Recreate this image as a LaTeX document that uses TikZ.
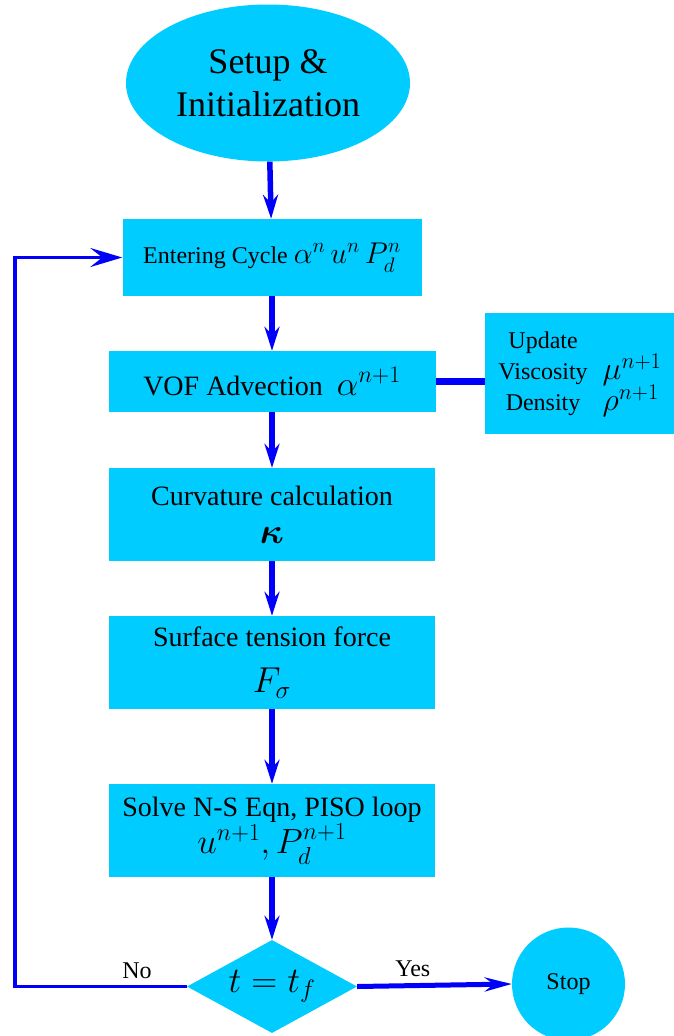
\RequirePackage{fix-cm}
\documentclass[tikz,border=0pt]{standalone}
\usepackage{amsmath,amssymb}
\usepackage[no-math]{fontspec}
\IfFontExistsTF{LiberationSerif-Regular.ttf}
  {\setmainfont{LiberationSerif}[Extension=.ttf, UprightFont=*-Regular,
     BoldFont=*-Bold, ItalicFont=*-Italic, BoldItalicFont=*-BoldItalic]}
  {\setmainfont{Liberation Serif}}
\usepackage{tikz}
\usetikzlibrary{arrows.meta,positioning,shapes.geometric}
\definecolor{cellfill}{RGB}{0,204,255}
\definecolor{wire}{RGB}{0,0,250}
\newcommand{\eqsz}[2]{{\fontsize{#1}{#1}\selectfont$#2$}}
\tikzset{
  box/.style={fill=cellfill, inner sep=4pt, align=center,
              minimum width=326pt, minimum height=93pt, font=\rmfamily\fontsize{28}{38}\selectfont},
  bubble/.style={ellipse, fill=cellfill, inner sep=0pt, align=center,
              minimum width=284pt, minimum height=157pt, font=\rmfamily\fontsize{36}{43}\selectfont},
  decision/.style={diamond, fill=cellfill, inner sep=0pt, shape aspect=1.8,
              minimum width=170pt, minimum height=93pt},
  terminal/.style={circle, fill=cellfill, inner sep=0pt, minimum size=113pt,
              font=\rmfamily\fontsize{24}{28}\selectfont},
  tag/.style={inner sep=2pt, text=black, font=\rmfamily\fontsize{24}{28}\selectfont},
  flow/.style={-{Stealth[length=24pt,width=15pt,inset=8pt]}, wire, line width=5.5pt},
  link/.style={wire, line width=7pt},
  loopback/.style={-{Stealth[length=32pt,width=19pt,inset=12pt]}, wire, line width=3.5pt},
}
\begin{document}
\begin{tikzpicture}[x=1pt,y=-1pt]
  \useasboundingbox (0,0) rectangle (673,1036);
  \node[bubble] (init) at (268,83) {Setup \&\\Initialization};
  \node[box, minimum width=299pt, minimum height=77pt, font=\rmfamily\fontsize{24}{30}\selectfont]
    (enter) at (272,257.5) {Entering Cycle \eqsz{30}{\alpha^n\,u^n\,P^n_d}};
  \node[box, minimum width=327pt, minimum height=61pt]
    (vof) at (272,381.5) {VOF Advection\hspace{14pt}\eqsz{34}{\alpha^{n+1}}};
  \node[box, minimum width=190pt, minimum height=121pt, font=\rmfamily\fontsize{24}{31}\selectfont]
    (update) at (580,373.5) {%
      \begin{tabular}{@{}c@{\hspace{15pt}}l@{}}
        Update & \\
        Viscosity & \smash{\eqsz{32}{\mu^{n+1}}} \\
        Density & \smash{\eqsz{32}{\rho^{n+1}}}
      \end{tabular}};
  \node[box] (curv) at (272,514.5) {Curvature calculation\\\eqsz{36}{\boldsymbol{\kappa}}};
  \node[box] (surf) at (272,662.5) {Surface tension force\\[8pt]\eqsz{36}{F_\sigma}};
  \node[box, font=\rmfamily\fontsize{28}{37}\selectfont]
    (solve) at (272,830.5) {Solve N-S Eqn, PISO loop\\\eqsz{35}{u^{n+1}, P_d^{n+1}}};
  \node[decision] (check) at (272,986.5) {\eqsz{36}{t=t_f}};
  \node[terminal] (stop) at (568.5,984) {Stop};
  \coordinate (loopcorner) at (15,986.5);

  \draw[flow] (init) -- (enter);
  \draw[flow] (enter) -- (vof);
  \draw[link] (vof.east) -- (vof.east -| update.west);
  \draw[flow] (vof) -- (curv);
  \draw[flow] (curv) -- (surf);
  \draw[flow] (surf) -- (solve);
  \draw[flow] (solve) -- (check);
  \draw[loopback] (check.west) -- node[tag, pos=0.29, above=4pt] {No} (loopcorner)
    |- (enter.west);
  \draw[flow, line width=5pt, -{Stealth[length=27pt,width=14pt,inset=9pt]}]
    (check.east) -- node[tag, pos=0.36, above=4pt] {Yes} (stop.west);
\end{tikzpicture}
\end{document}
